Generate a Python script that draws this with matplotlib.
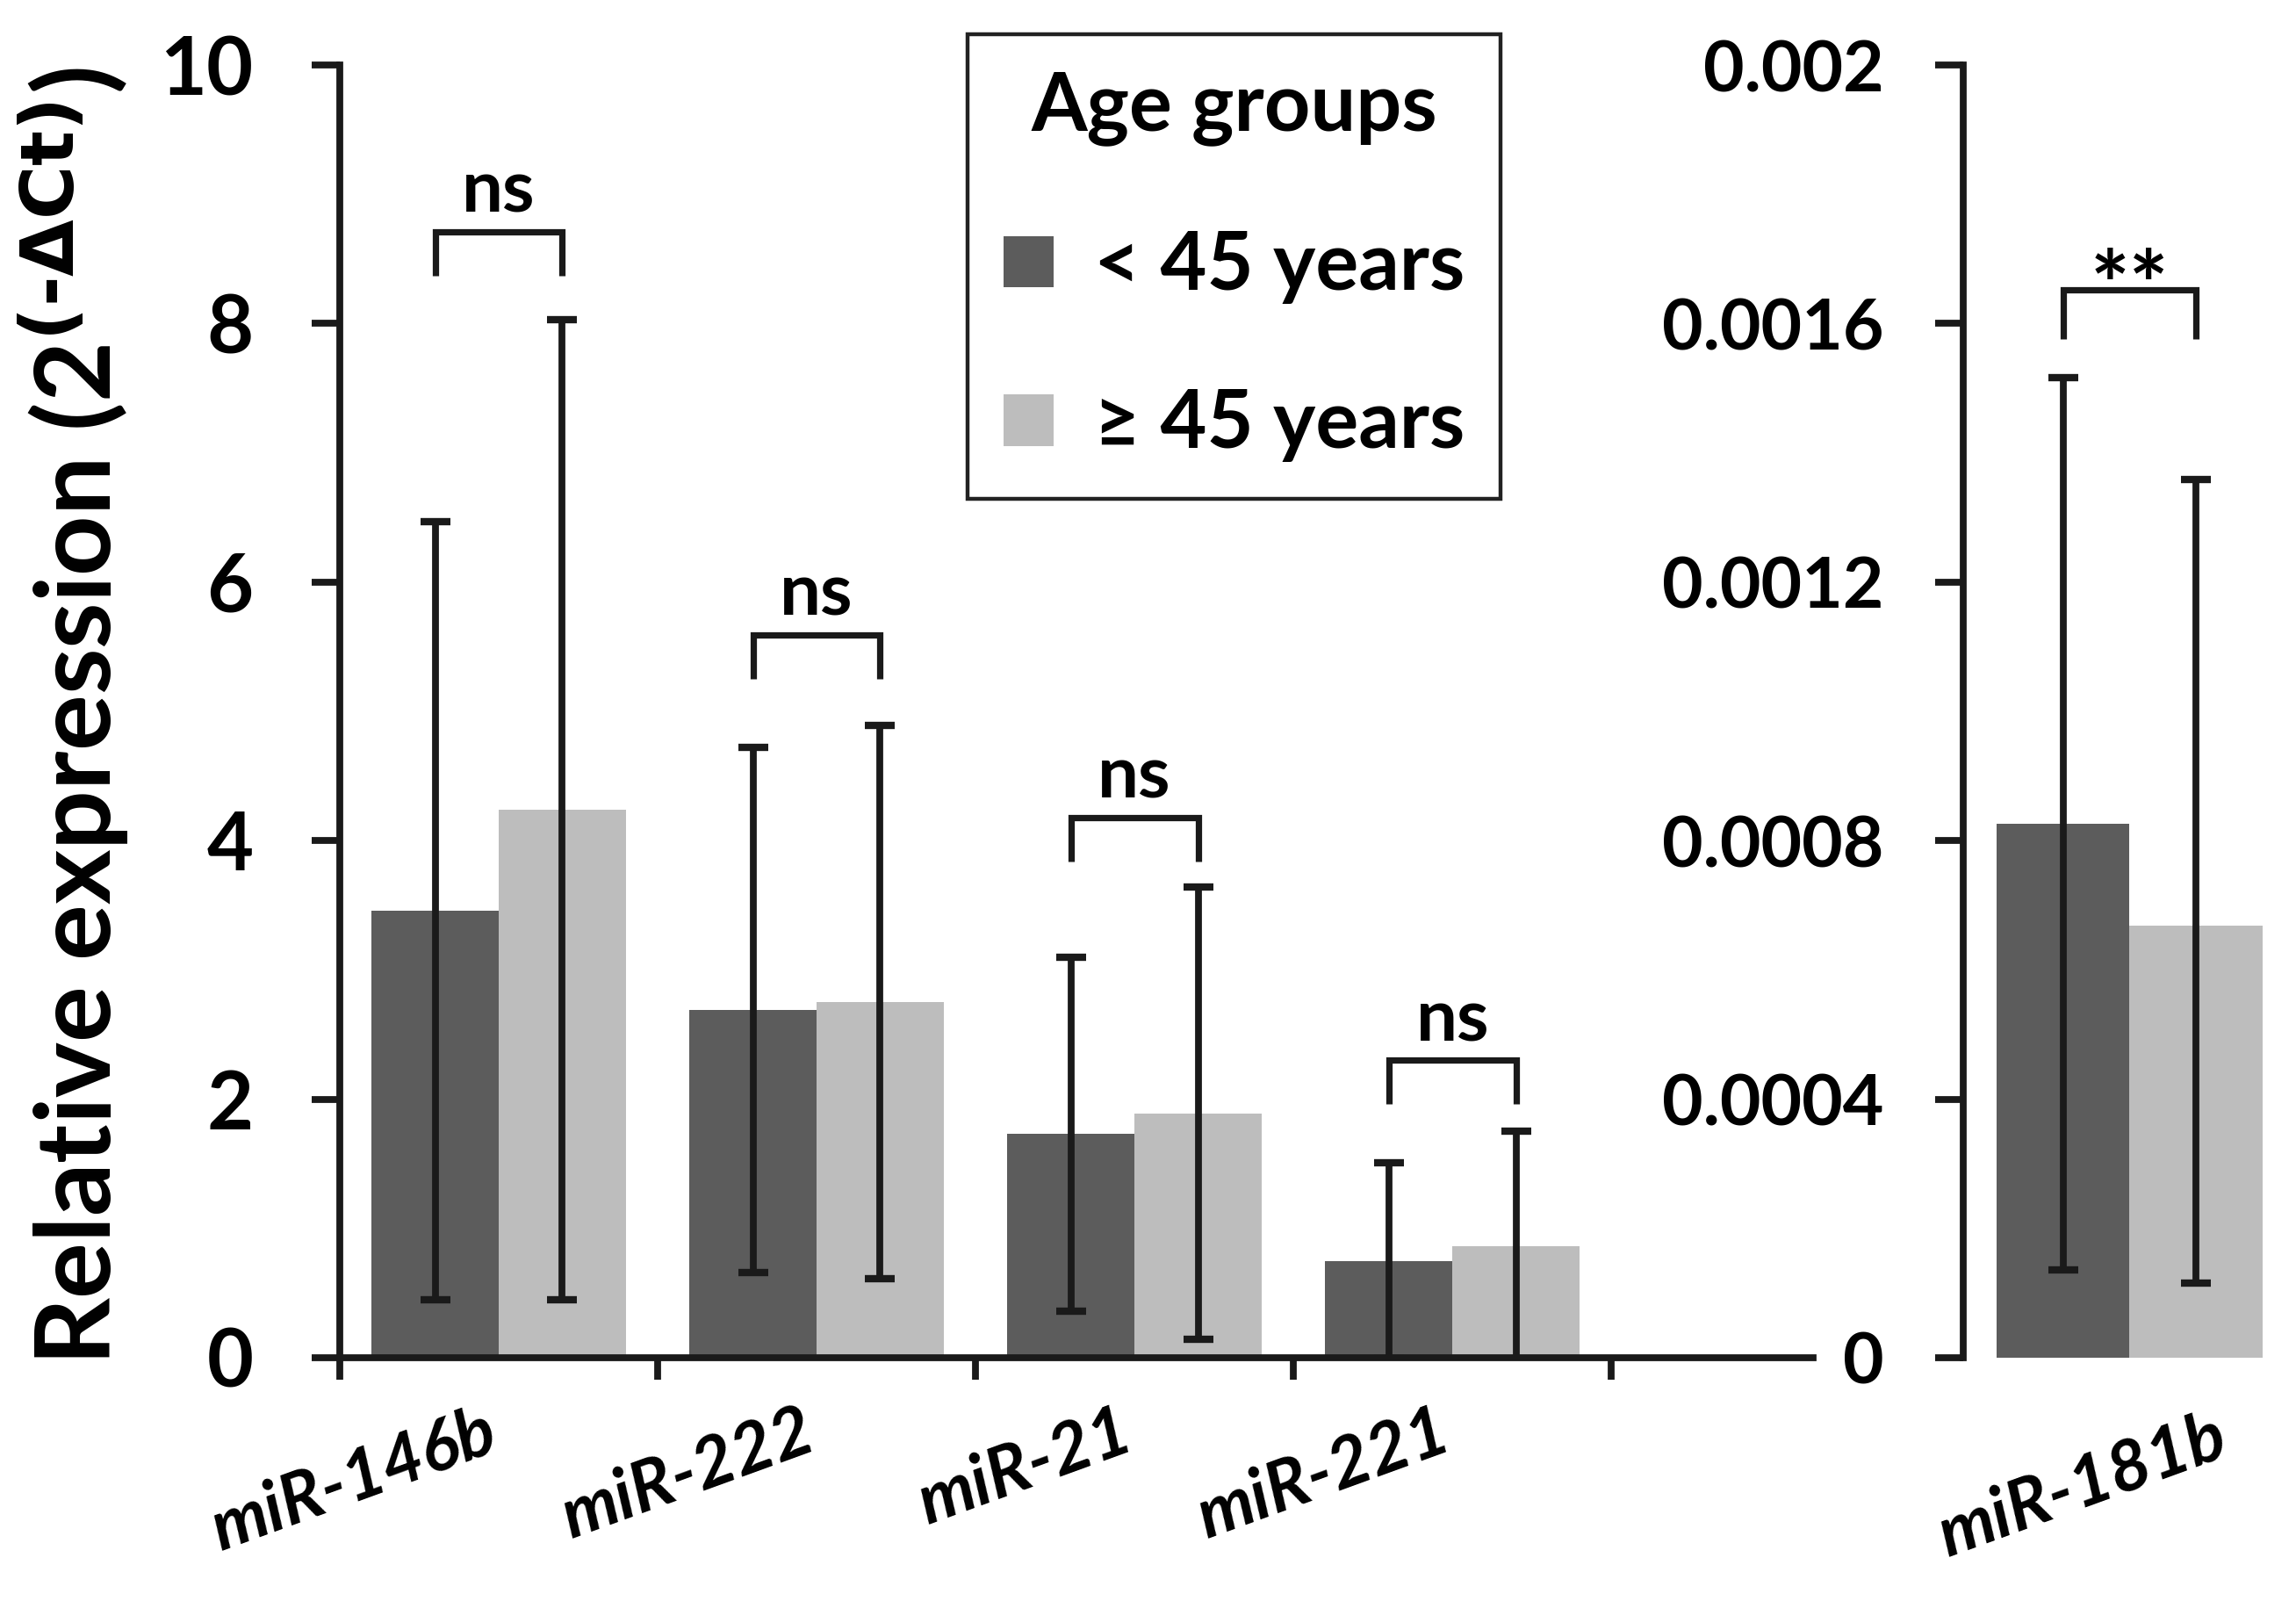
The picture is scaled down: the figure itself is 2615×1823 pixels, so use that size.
import matplotlib
matplotlib.use('Agg')
import matplotlib.pyplot as plt
import numpy as np

plt.rcParams['font.family'] = ['Lato', 'DejaVu Sans']
plt.rcParams['font.weight'] = 'bold'
plt.rcParams['mathtext.default'] = 'regular'

# left panel, scale 0-10
mirnas = ['miR-146b', 'miR-222', 'miR-21', 'miR-221']
young_mean = [3.46, 2.69, 1.73, 0.75]
young_sd = [3.01, 2.03, 1.37, 0.76]
old_mean = [4.24, 2.75, 1.89, 0.86]
old_sd = [3.79, 2.14, 1.75, 0.89]
sig_text = ['ns', 'ns', 'ns', 'ns']
sig_y = [8.71, 5.59, 4.18, 2.30]

# right panel, scale 0-0.002
mir_right = ['miR-181b']
young_right = [0.000826]
young_right_sd = [0.00069]
old_right = [0.000669]
old_right_lo = [0.000553]
old_right_hi = [0.00069]
sig_right = ['**']
sig_right_y = [0.001652]

yticks_left = [0, 2, 4, 6, 8, 10]
yticks_right = [0, 0.0004, 0.0008, 0.0012, 0.0016, 0.002]
yticklabels_right = ['0', '0.0004', '0.0008', '0.0012', '0.0016', '0.002']
groups = ['< 45 years', '\u2265 45 years']

dark = '#5c5c5c'
light = '#bdbdbd'
ink = '#1a1a1a'
lw = 2.8

fig = plt.figure(figsize=(13.075, 9.115), dpi=200)
ax = fig.add_axes([0.148, 0.152, 0.6417, 0.8074])
ax2 = fig.add_axes([0.855, 0.152, 0.145, 0.8074])

err_kw = dict(ecolor=ink, elinewidth=lw, capsize=6.2, capthick=3)

#############################################
# left panel
x = np.arange(len(mirnas)) + 0.5
b1 = ax.bar(x - 0.2, young_mean, 0.4, color=dark, yerr=young_sd, error_kw=err_kw, label=groups[0])
b2 = ax.bar(x + 0.2, old_mean, 0.4, color=light, yerr=old_sd, error_kw=err_kw, label=groups[1])

drop = 0.34
for xi, top, txt in zip(x, sig_y, sig_text):
    ax.plot([xi - 0.2, xi - 0.2, xi + 0.2, xi + 0.2], [top - drop, top, top, top - drop],
            color=ink, lw=2.6, solid_joinstyle='miter', solid_capstyle='butt')
    ax.annotate(txt, (xi, top), xytext=(0, 3), textcoords='offset points',
                ha='center', va='bottom', fontsize=30, fontweight='bold')

ax.set_xlim(0, 4.635)
ax.set_ylim(0, 10)
for s in ['top', 'right']:
    ax.spines[s].set_visible(False)
for s in ['left', 'bottom']:
    ax.spines[s].set_linewidth(lw)
    ax.spines[s].set_color(ink)

ax.set_yticks(yticks_left)
ax.tick_params(axis='y', length=11.5, width=lw, pad=24, labelsize=33, color=ink)
ax.set_xticks(np.arange(len(mirnas) + 1))
ax.set_xticklabels([])
ax.tick_params(axis='x', which='major', length=9, width=lw, color=ink)
ax.set_xticks(x - 0.05, minor=True)
ax.set_xticklabels(mirnas, minor=True, rotation=20, ha='right', va='top',
                   rotation_mode='anchor', fontsize=29, fontstyle='italic')
ax.tick_params(axis='x', which='minor', length=0, pad=17)

#############################################
# right panel
xr = np.arange(len(mir_right)) + 0.5
ax2.bar(xr - 0.2, young_right, 0.4, color=dark, yerr=young_right_sd, error_kw=err_kw)
ax2.bar(xr + 0.2, old_right, 0.4, color=light, yerr=[old_right_lo, old_right_hi], error_kw=err_kw)

drop_r = 0.000076
for xi, top, txt in zip(xr, sig_right_y, sig_right):
    ax2.plot([xi - 0.2, xi - 0.2, xi + 0.2, xi + 0.2], [top - drop_r, top, top, top - drop_r],
             color=ink, lw=2.6, solid_joinstyle='miter', solid_capstyle='butt')
    ax2.annotate(txt, (xi, top), xytext=(0, -18), textcoords='offset points',
                 ha='center', va='bottom', fontsize=38, fontweight='bold')

ax2.set_xlim(0, 1)
ax2.set_ylim(0, 0.002)
for s in ['top', 'right', 'bottom']:
    ax2.spines[s].set_visible(False)
ax2.spines['left'].set_linewidth(lw)
ax2.spines['left'].set_color(ink)
ax2.set_yticks(yticks_right)
ax2.set_yticklabels(yticklabels_right)
ax2.tick_params(axis='y', length=11.5, width=lw, pad=21, labelsize=29, color=ink)
ax2.set_xticks(xr + 0.25)
ax2.set_xticklabels(mir_right, rotation=20, ha='right', va='top',
                    rotation_mode='anchor', fontsize=29, fontstyle='italic')
ax2.tick_params(axis='x', length=0, pad=19)

#############################################
fig.text(0.032, 0.5524, r'Relative expression (2$^{\text{(-ΔCt)}}$)', rotation=90,
         ha='center', va='center', fontsize=43, fontweight='bold')

leg = ax.legend(handles=[b1, b2], title='Age groups', loc='upper left',
                bbox_to_anchor=(0.4214, 0.9786), bbox_transform=fig.transFigure,
                borderaxespad=0, fontsize=33,
                title_fontproperties={'weight': 'bold', 'size': 33},
                handlelength=0.62, handleheight=0.61, handletextpad=0.5,
                labelspacing=1.05, borderpad=0.45, fancybox=False,
                edgecolor='#222222', framealpha=1)
leg.get_frame().set_linewidth(1.6)

fig.savefig('out.png', dpi=200)
